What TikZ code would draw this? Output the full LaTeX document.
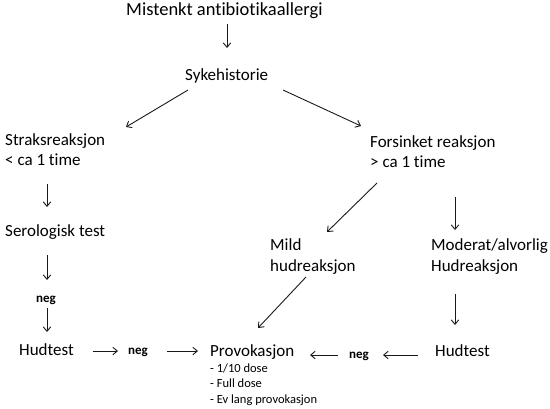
\documentclass[tikz,border=0pt]{standalone}
\usepackage{fontspec}
\setmainfont{Carlito}[Ligatures=NoCommon]
\usetikzlibrary{arrows.meta}
\tikzset{
  txt/.style={inner sep=0pt, anchor=base west, text=black, font=\fontsize{17}{20.5}\selectfont},
  big/.style={txt, font=\fontsize{18.5}{22}\selectfont},
  small/.style={inner sep=0pt, anchor=base west, text=black, font=\fontsize{12.5}{15.7}\selectfont},
  neglabel/.style={inner sep=0pt, anchor=base west, text=black, font=\fontsize{13}{15}\selectfont\bfseries},
  arr/.style={draw=black!90, line width=0.9pt, -{Straight Barb[length=4.5pt,width=7.5pt]}}
}
\begin{document}
\begin{tikzpicture}[x=1pt,y=-1pt]
\useasboundingbox (0,0) rectangle (550,408);
% nodes
\node[big] (mist) at (126,15) {Mistenkt antibiotikaallergi};
\node[txt] (syk) at (185,80.7) {Sykehistorie};
\node[txt] (straks) at (5,145) {\vtop{\hbox{Straksreaksjon}\hbox{< ca 1 time}}};
\node[txt] (sero) at (5,236) {Serologisk test};
\node[neglabel] (negv) at (36,302) {neg};
\node[txt] (hudl) at (19,355) {Hudtest};
\node[neglabel] (negm) at (128,354) {neg};
\node[txt] (prov) at (210,356) {Provokasjon};
\node[small] (doses) at (210,372) {\vtop{\hbox{- 1/10 dose}\hbox{- Full dose}\hbox{- Ev lang provokasjon}}};
\node[neglabel] (negr) at (349,358) {neg};
\node[txt] (hudr) at (435,356.5) {Hudtest};
\node[txt] (fors) at (370,147) {\vtop{\hbox{Forsinket reaksjon}\hbox{> ca 1 time}}};
\node[txt] (mild) at (270,250.5) {\vtop{\hbox{Mild}\hbox{hudreaksjon}}};
\node[txt] (mod) at (431,250.5) {\vtop{\hbox{Moderat/alvorlig}\hbox{Hudreaksjon}}};
% connectors
\draw[arr] ([shift={(101,9)}]mist.base west) -- ([shift={(42,-32.7)}]syk.base west);
\draw[arr] ([shift={(3,9.3)}]syk.base west) -- ([shift={(121,-18)}]straks.base west);
\draw[arr] ([shift={(98,9.3)}]syk.base west) -- ([shift={(-9,-21)}]fors.base west);
\draw[arr] ([shift={(42,39)}]straks.base west) -- ([shift={(42,-29)}]sero.base west);
\draw[arr] ([shift={(42,19)}]sero.base west) -- ([shift={(11,-22)}]negv.base west);
\draw[arr] ([shift={(11,6)}]negv.base west) -- ([shift={(28,-23)}]hudl.base west);
\draw[arr] ([shift={(74,-4)}]hudl.base west) -- ([shift={(-10,-3)}]negm.base west);
\draw[arr] ([shift={(39,-3)}]negm.base west) -- ([shift={(-12,-5)}]prov.base west);
\draw[arr] ([shift={(7,36)}]fors.base west) -- ([shift={(57,-18.5)}]mild.base west);
\draw[arr] ([shift={(85,50)}]fors.base west) -- ([shift={(24,-20.5)}]mod.base west);
\draw[arr] ([shift={(36,26.5)}]mild.base west) -- ([shift={(48,-28)}]prov.base west);
\draw[arr] ([shift={(24,43.5)}]mod.base west) -- ([shift={(20,-31.5)}]hudr.base west);
\draw[arr] ([shift={(-17,-1.5)}]hudr.base west) -- ([shift={(34,-3)}]negr.base west);
\draw[arr] ([shift={(-11,-3)}]negr.base west) -- ([shift={(100,-1)}]prov.base west);
\end{tikzpicture}
\end{document}
